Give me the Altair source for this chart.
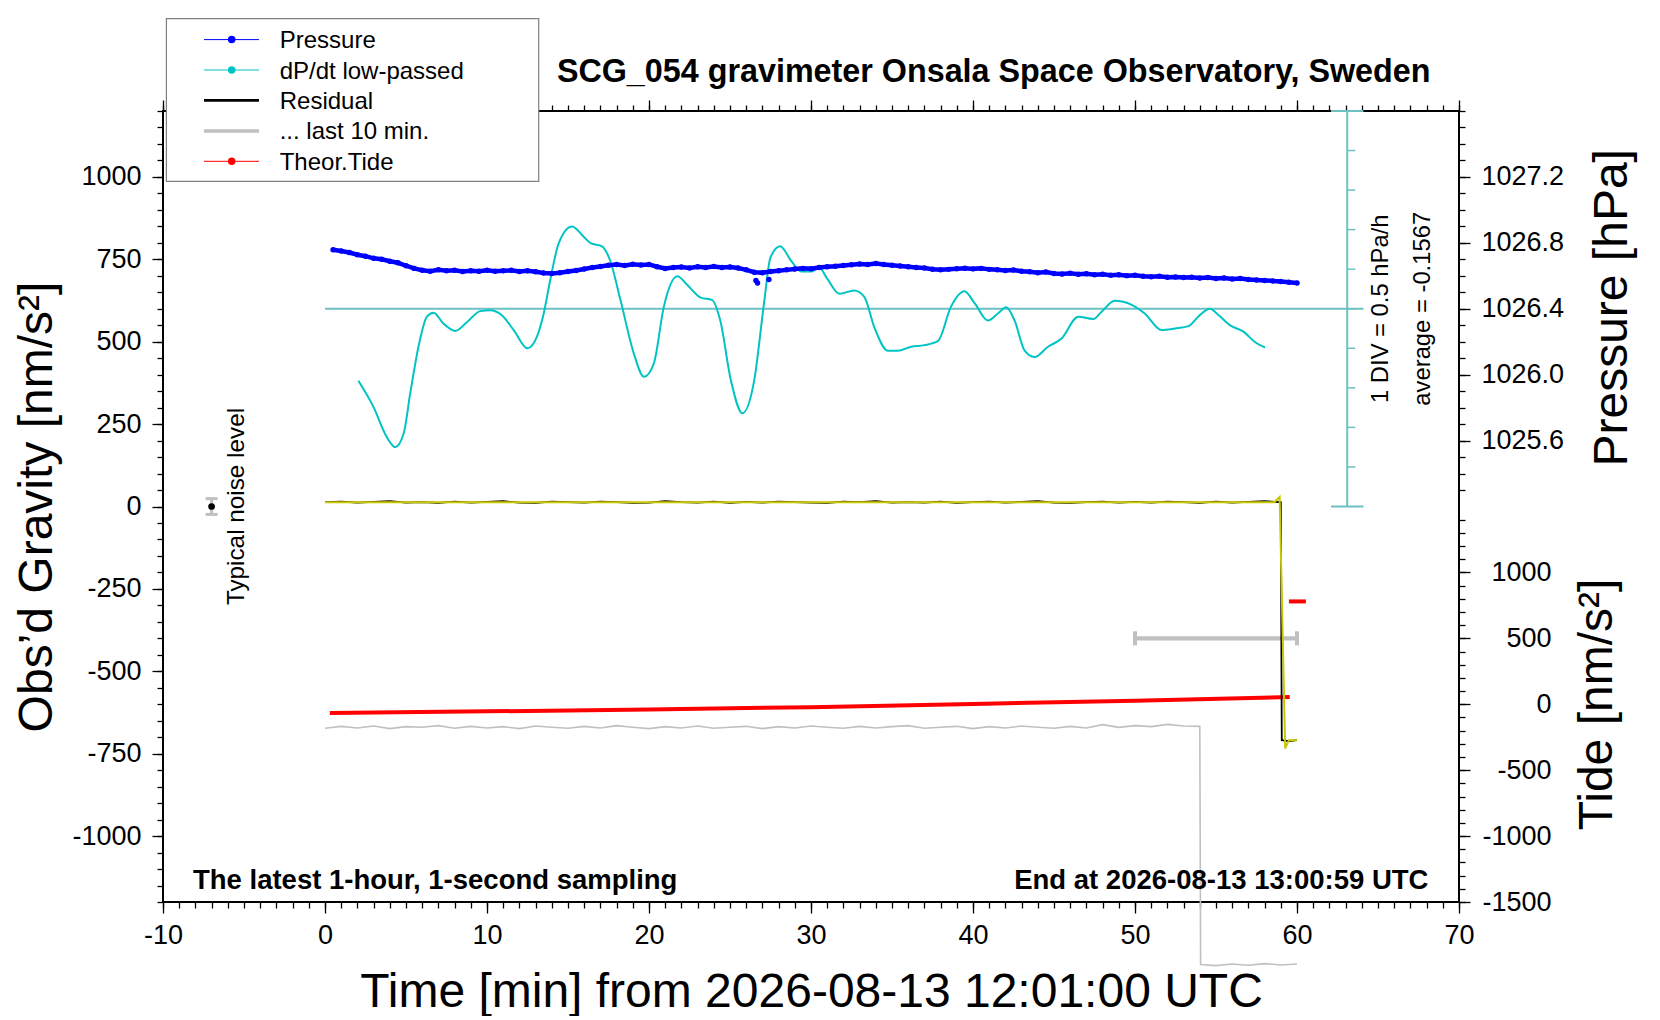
import altair as alt
import pandas as pd

FONT = "Liberation Sans"

# ---------------- values ----------------
# dP/dt low-passed [hPa/h] versus time [min]
dpdt_t = [2.06, 2.99, 3.81, 4.33, 4.85, 5.26, 5.77, 6.29, 6.70, 7.32,
          8.04, 8.76, 9.59, 10.2, 10.9, 11.65, 12.5, 13.09, 13.5, 13.9,
          14.43, 15.25, 15.97, 16.39, 17.1, 17.6, 18.24, 19.07, 19.69, 20.3,
          20.92, 21.75, 22.37, 23.2, 23.9, 24.4, 25.05, 25.77, 26.5, 27.1,
          27.5, 28.1, 28.76, 29.4, 30.0, 30.5, 31.0, 31.75, 32.67, 33.29,
          33.9, 34.74, 35.35, 36.18, 37.0, 37.83, 38.65, 39.47, 40.1, 40.92,
          41.54, 42.05, 42.57, 43.19, 43.8, 44.63, 45.45, 46.5, 47.41, 47.93,
          48.75, 49.8, 50.6, 51.64, 52.47, 53.3, 53.9, 54.63, 55.15, 55.87,
          56.7, 57.4, 58.03]
dpdt_v = [-0.91, -1.24, -1.62, -1.75, -1.58, -1.07, -0.48, -0.10, -0.05, -0.19,
          -0.28, -0.17, -0.03, -0.02, -0.08, -0.27, -0.50, -0.35, -0.06, 0.36,
          0.83, 1.04, 0.91, 0.83, 0.79, 0.61, 0.11, -0.57, -0.86, -0.69,
          0.03, 0.41, 0.30, 0.14, 0.11, -0.15, -0.90, -1.32, -0.90, 0.07,
          0.65, 0.79, 0.61, 0.47, 0.47, 0.52, 0.38, 0.19, 0.23, 0.15,
          -0.23, -0.53, -0.53, -0.48, -0.46, -0.41, 0.03, 0.22, 0.07, -0.15,
          -0.06, 0.02, -0.15, -0.53, -0.61, -0.48, -0.38, -0.10, -0.13, -0.04,
          0.10, 0.05, -0.06, -0.27, -0.25, -0.22, -0.10, 0.00, -0.08, -0.21,
          -0.29, -0.42, -0.49]

# Pressure [hPa], one reading every half minute
pres_t = [0.5 * i for i in range(1, 121)]
pres_v = [
    1026.758, 1026.750, 1026.741, 1026.728, 1026.719, 1026.706, 1026.700, 1026.688, 1026.679, 1026.661,
    1026.645, 1026.634, 1026.628, 1026.636, 1026.630, 1026.633, 1026.626, 1026.631, 1026.628, 1026.634,
    1026.627, 1026.630, 1026.633, 1026.626, 1026.631, 1026.624, 1026.617, 1026.614, 1026.619, 1026.626,
    1026.632, 1026.641, 1026.650, 1026.657, 1026.664, 1026.668, 1026.663, 1026.670, 1026.666, 1026.669,
    1026.655, 1026.644, 1026.650, 1026.654, 1026.648, 1026.655, 1026.651, 1026.657, 1026.650, 1026.653,
    1026.647, 1026.636, 1026.622, 1026.618, 1026.626, 1026.630, 1026.636, 1026.641, 1026.645, 1026.643,
    1026.650, 1026.655, 1026.658, 1026.663, 1026.667, 1026.672, 1026.669, 1026.674, 1026.668, 1026.664,
    1026.660, 1026.655, 1026.651, 1026.647, 1026.640, 1026.636, 1026.639, 1026.643, 1026.646, 1026.642,
    1026.645, 1026.639, 1026.636, 1026.632, 1026.635, 1026.628, 1026.624, 1026.619, 1026.623, 1026.614,
    1026.611, 1026.616, 1026.609, 1026.612, 1026.607, 1026.609, 1026.604, 1026.606, 1026.601, 1026.603,
    1026.597, 1026.594, 1026.597, 1026.591, 1026.593, 1026.589, 1026.591, 1026.587, 1026.589, 1026.584,
    1026.586, 1026.581, 1026.583, 1026.578, 1026.575, 1026.572, 1026.569, 1026.565, 1026.561, 1026.556,
]
pres_out_t = [26.6, 26.7, 27.4]
pres_out_v = [1026.572, 1026.556, 1026.577]

# Residual [nm/s^2]
resid_t = list(range(0, 60)) + [59.06, 59.5, 60.0]
resid_v = [13, 15, 12, 14, 16, 12, 13, 11, 15, 12,
           14, 16, 12, 11, 15, 13, 12, 15, 13, 11,
           12, 16, 13, 12, 15, 11, 14, 12, 15, 13,
           12, 11, 15, 13, 16, 12, 13, 12, 15, 11,
           13, 15, 12, 14, 16, 12, 11, 13, 15, 12,
           14, 12, 15, 13, 11, 15, 12, 14, 16, 13] + [-709, -712, -709]
# smoothed residual (yellow)
smooth_t = [0, 10, 20, 30, 40, 50, 58.6, 58.93, 59.27, 59.5, 60.0]
smooth_v = [13, 13, 13, 13, 13, 13, 13, 29, -734, -709, -709]

# "... last 10 min." trace [nm/s^2]
last10_t = list(range(0, 55)) + [54.05, 55, 56, 57, 58, 59, 60]
last10_v = [-673, -667, -672, -666, -674, -668, -670, -665, -673, -667,
            -672, -668, -674, -666, -670, -673, -667, -672, -665, -670,
            -674, -668, -672, -666, -673, -670, -667, -674, -668, -672,
            -666, -670, -673, -667, -672, -668, -665, -673, -670, -667,
            -674, -668, -672, -666, -670, -673, -667, -672, -662, -670,
            -665, -668, -661, -666, -667] + [-1390, -1393, -1388, -1392, -1387, -1391, -1388]

# Theoretical tide [nm/s^2]
tide_t = [0.3, 10, 20, 30, 40, 50, 59.55]
tide_v = [-66, -54, -40, -22, 2, 27, 55]
tide_now_t = [59.5, 60.55]
tide_now_v = 780
# range bar of the last 10 minutes (tide axis)
range_t = [50, 60]
range_v = 500

# typical noise level
noise_t = -7
noise_v = 0
noise_err = 24

# dP/dt scale: 1 DIV = 0.5 hPa/h = 120 nm/s^2, centred on 600
DPDT_ZERO = 600
DIV_G = 120
DIV_HPA = 0.5
BAR_T = 63.1

# legend
legend_names = ["Pressure", "dP/dt low-passed", "Residual", "... last 10 min.", "Theor.Tide"]
legend_colors = ["#0000ff", "#00c4c4", "#000000", "#c0c0c0", "#ff0000"]
legend_line_w = [1, 1, 2.7, 3.5, 1]
legend_dot = [True, True, False, False, True]

CYAN = "#00c4c4"
REF_CYAN = "#6cc2c2"
GRAY = "#c0c0c0"
YELLOW = "#c8c800"

# ---------------- scales & axes ----------------
XS = alt.Scale(domain=[-10, 70], nice=False, zero=False)
GS = alt.Scale(domain=[-1200, 1200], nice=False, zero=False)
PS = alt.Scale(domain=[1022.8, 1027.6], nice=False, zero=False)
TS = alt.Scale(domain=[-1500, 4500], nice=False, zero=False)
ROWS = alt.Scale(domain=[0, 4], range=[-71.4, 50.3], nice=False, zero=False)

LBL = "toString(datum.value)"


def ax(orient, values, size, labels=True, **kw):
    return alt.Axis(orient=orient, values=values, tickSize=size, labels=labels,
                    grid=False, domain=False, **kw)


AX_BOTTOM = ax("bottom", list(range(-10, 71, 10)), 11, labelExpr=LBL, labelPadding=9,
               title="Time [min] from 2026-08-13 12:01:00 UTC", titleFontSize=48,
               titleBaseline="alphabetic", titleY=104.3)
AX_BOTTOM_MIN = ax("bottom", list(range(-10, 71)), 6, labels=False, title=None)
AX_TOP = ax("top", list(range(-10, 71, 10)), 11, labels=False, title=None)
AX_TOP_MIN = ax("top", list(range(-10, 71)), 6, labels=False, title=None)
AX_LEFT = ax("left", list(range(-1000, 1001, 250)), 11, labelExpr=LBL, labelPadding=11,
             title="Obs\u2019d Gravity [nm/s\u00b2]", titleFontSize=48, titleAngle=270,
             titleBaseline="alphabetic", titleX=-111.5, titleY=395.5)
AX_LEFT_MIN = ax("left", list(range(-1200, 1201, 50)), 6, labels=False, title=None)
AX_PRES = ax("right", [1025.6, 1026.0, 1026.4, 1026.8, 1027.2], 11, format=".1f", labelPadding=11,
             title="Pressure [hPa]", titleFontSize=48, titleAngle=270,
             titleBaseline="alphabetic", titleX=167.4, titleY=196.3)
AX_PRES_MIN = ax("right", [round(1025.3 + 0.1 * i, 1) for i in range(24)], 6, labels=False, title=None)
AX_TIDE = ax("right", [-1500, -1000, -500, 0, 500, 1000], 11, labelExpr=LBL, labelPadding=81,
             labelAlign="right",
             title="Tide [nm/s\u00b2]", titleFontSize=48, titleAngle=270,
             titleBaseline="alphabetic", titleX=152, titleY=593)
AX_TIDE_MIN = ax("right", list(range(-1500, 1401, 100)), 6, labels=False, title=None)


def X(field, axis=None):
    return alt.X(field, type="quantitative", scale=XS, axis=axis)


def YG(field, axis=None):
    return alt.Y(field, type="quantitative", scale=GS, axis=axis)


def YP(field, axis=None):
    return alt.Y(field, type="quantitative", scale=PS, axis=axis)


def YT(field, axis=None):
    return alt.Y(field, type="quantitative", scale=TS, axis=axis)


one = pd.DataFrame({"a": [0]})

# ---------------- dP/dt scale furniture ----------------
ref_line = alt.Chart(pd.DataFrame({"t0": [0.0], "t1": [64.1], "g": [DPDT_ZERO]})).mark_rule(
    color=REF_CYAN, strokeWidth=2).encode(x=X("t0"), x2="t1", y=YG("g"))
bar = alt.Chart(pd.DataFrame({"t": [BAR_T], "g0": [0], "g1": [DPDT_ZERO * 2]})).mark_rule(
    color=REF_CYAN, strokeWidth=2).encode(x=X("t"), y=YG("g0"), y2="g1")
caps = alt.Chart(pd.DataFrame({"t0": [BAR_T - 1, BAR_T - 1], "t1": [BAR_T + 1, BAR_T + 1],
                               "g": [0, DPDT_ZERO * 2]})).mark_rule(
    color=REF_CYAN, strokeWidth=2).encode(x=X("t0"), x2="t1", y=YG("g"))
bar_ticks = alt.Chart(pd.DataFrame({"t0": [BAR_T] * 9, "t1": [BAR_T + 0.5] * 9,
                                    "g": [DIV_G * k for k in range(1, 10)]})).mark_rule(
    color=REF_CYAN, strokeWidth=1.5).encode(x=X("t0"), x2="t1", y=YG("g"))

df_dpdt = pd.DataFrame({"t": dpdt_t, "g": [DPDT_ZERO + v / DIV_HPA * DIV_G for v in dpdt_v]})
dpdt_line = alt.Chart(df_dpdt).mark_line(color=CYAN, strokeWidth=2, interpolate="monotone").encode(
    x=X("t", AX_BOTTOM), y=YG("g", AX_LEFT))

# ---------------- pressure ----------------
df_p = pd.DataFrame({"t": pres_t, "p": pres_v})
pres_line = alt.Chart(df_p).mark_line(color="#0000ff", strokeWidth=4.5).encode(
    x=X("t"), y=YP("p", AX_PRES))
pres_pts = alt.Chart(pd.concat([df_p, pd.DataFrame({"t": pres_out_t, "p": pres_out_v})])).mark_circle(
    color="#0000ff", size=30, opacity=1).encode(x=X("t"), y=YP("p", AX_PRES_MIN))

# ---------------- last 10 min trace ----------------
last10 = alt.Chart(pd.DataFrame({"t": last10_t, "g": last10_v})).mark_line(
    color=GRAY, strokeWidth=1.6).encode(x=X("t", AX_TOP_MIN), y=YG("g"))

# ---------------- tide ----------------
tide_line = alt.Chart(pd.DataFrame({"t": tide_t, "v": tide_v})).mark_line(
    color="#ff0000", strokeWidth=4).encode(x=X("t"), y=YT("v", AX_TIDE))
tide_now = alt.Chart(pd.DataFrame({"t0": [tide_now_t[0]], "t1": [tide_now_t[1]], "v": [tide_now_v]})).mark_rule(
    color="#ff0000", strokeWidth=4).encode(x=X("t0"), x2="t1", y=YT("v", AX_TIDE_MIN))
range_bar = alt.Chart(pd.DataFrame({"t0": [range_t[0]], "t1": [range_t[1]], "v": [range_v]})).mark_rule(
    color=GRAY, strokeWidth=4.3).encode(x=X("t0"), x2="t1", y=YT("v"))
range_caps = alt.Chart(pd.DataFrame({"t": range_t, "v": [range_v, range_v]})).mark_tick(
    color=GRAY, orient="vertical", size=14, thickness=4, opacity=1).encode(x=X("t"), y=YT("v"))

# ---------------- residual ----------------
resid = alt.Chart(pd.DataFrame({"t": resid_t, "g": resid_v})).mark_line(
    color="#000000", strokeWidth=1.8).encode(x=X("t", AX_BOTTOM_MIN), y=YG("g", AX_LEFT_MIN))
smooth = alt.Chart(pd.DataFrame({"t": smooth_t, "g": smooth_v})).mark_line(
    color=YELLOW, strokeWidth=2).encode(x=X("t", AX_TOP), y=YG("g"))

# ---------------- noise marker ----------------
noise_bar = alt.Chart(pd.DataFrame({"t": [noise_t], "g0": [noise_v - noise_err], "g1": [noise_v + noise_err]})).mark_rule(
    color=GRAY, strokeWidth=3).encode(x=X("t"), y=YG("g0"), y2="g1")
noise_caps = alt.Chart(pd.DataFrame({"t": [noise_t, noise_t], "g": [noise_v - noise_err, noise_v + noise_err]})).mark_tick(
    color=GRAY, orient="horizontal", size=12, thickness=3, opacity=1).encode(x=X("t"), y=YG("g"))
noise_dot = alt.Chart(pd.DataFrame({"t": [noise_t], "g": [noise_v]})).mark_circle(
    color="#000000", size=45, opacity=1).encode(x=X("t"), y=YG("g"))

# ---------------- annotations ----------------
txt_noise = alt.Chart(pd.DataFrame({"t": [-5.44], "g": [0], "s": ["Typical noise level"]})).mark_text(
    angle=270, fontSize=24.3, color="black").encode(x=X("t"), y=YG("g"), text="s:N")
txt_div = alt.Chart(pd.DataFrame({"t": [65.18, 67.77], "g": [DPDT_ZERO, DPDT_ZERO],
                                  "s": ["1 DIV = 0.5 hPa/h", "average = -0.1567"]})).mark_text(
    angle=270, fontSize=23.8, color="black").encode(x=X("t"), y=YG("g"), text="s:N")
txt_left = alt.Chart(pd.DataFrame({"s": ["The latest 1-hour, 1-second sampling"]})).mark_text(
    align="left", baseline="alphabetic", fontSize=27.5, fontWeight="bold", color="black").encode(
    x=alt.value(30), y=alt.value(777.8), text="s:N")
txt_right = alt.Chart(pd.DataFrame({"s": ["End at 2026-08-13 13:00:59 UTC"]})).mark_text(
    align="right", baseline="alphabetic", fontSize=27.5, fontWeight="bold", color="black").encode(
    x=alt.value(1265.4), y=alt.value(777.8), text="s:N")
txt_title = alt.Chart(pd.DataFrame({"s": ["SCG_054 gravimeter Onsala Space Observatory, Sweden"]})).mark_text(
    align="right", baseline="alphabetic", fontSize=32.3, fontWeight="bold", color="black").encode(
    x=alt.value(1267.5), y=alt.value(-29.2), text="s:N")

# ---------------- legend ----------------
df_leg = pd.DataFrame({"row": list(range(len(legend_names))), "name": legend_names,
                       "color": legend_colors, "w": legend_line_w, "dot": legend_dot})
leg_box = alt.Chart(one).mark_rect(fill="white", stroke="#808080", strokeWidth=1.2).encode(
    x=alt.value(3.4), x2=alt.value(375.7), y=alt.value(-92.4), y2=alt.value(70.3))
leg_lines = alt.Chart(df_leg).mark_rule().encode(
    x=alt.value(41), x2=alt.value(96), y=alt.Y("row:Q", scale=ROWS, axis=None),
    color=alt.Color("color:N", scale=None), strokeWidth=alt.StrokeWidth("w:Q", scale=None))
leg_dots = alt.Chart(df_leg[df_leg["dot"]]).mark_circle(size=56, opacity=1).encode(
    x=alt.value(68.7), y=alt.Y("row:Q", scale=ROWS, axis=None), color=alt.Color("color:N", scale=None))
leg_text = alt.Chart(df_leg).mark_text(align="left", baseline="middle", fontSize=24, dy=1.5,
                                       color="black").encode(
    x=alt.value(116.7), y=alt.Y("row:Q", scale=ROWS, axis=None), text="name:N")

layers = [ref_line, bar, caps, bar_ticks, dpdt_line, pres_line, pres_pts, last10,
          range_bar, range_caps, tide_now, tide_line, resid, smooth,
          noise_bar, noise_caps, noise_dot, txt_noise, txt_div, txt_left, txt_right, txt_title,
          leg_box, leg_lines, leg_dots, leg_text]

chart = alt.layer(*layers).resolve_scale(y="independent").resolve_axis(
    x="independent", y="independent").properties(
    width=1296, height=791,
    padding={"left": 155, "top": 103, "right": 185, "bottom": 114},
    autosize=alt.AutoSizeParams(type="none"),
).configure(font=FONT).configure_view(stroke="black", strokeWidth=2).configure_axis(
    labelFont=FONT, titleFont=FONT, labelColor="black", titleColor="black", tickColor="black",
    titleFontWeight="normal", labelFontSize=27, tickWidth=1.3, labelFlush=False, labelOverlap=False,
)

chart.save("out.html", embed_options={"renderer": "svg", "actions": False})
